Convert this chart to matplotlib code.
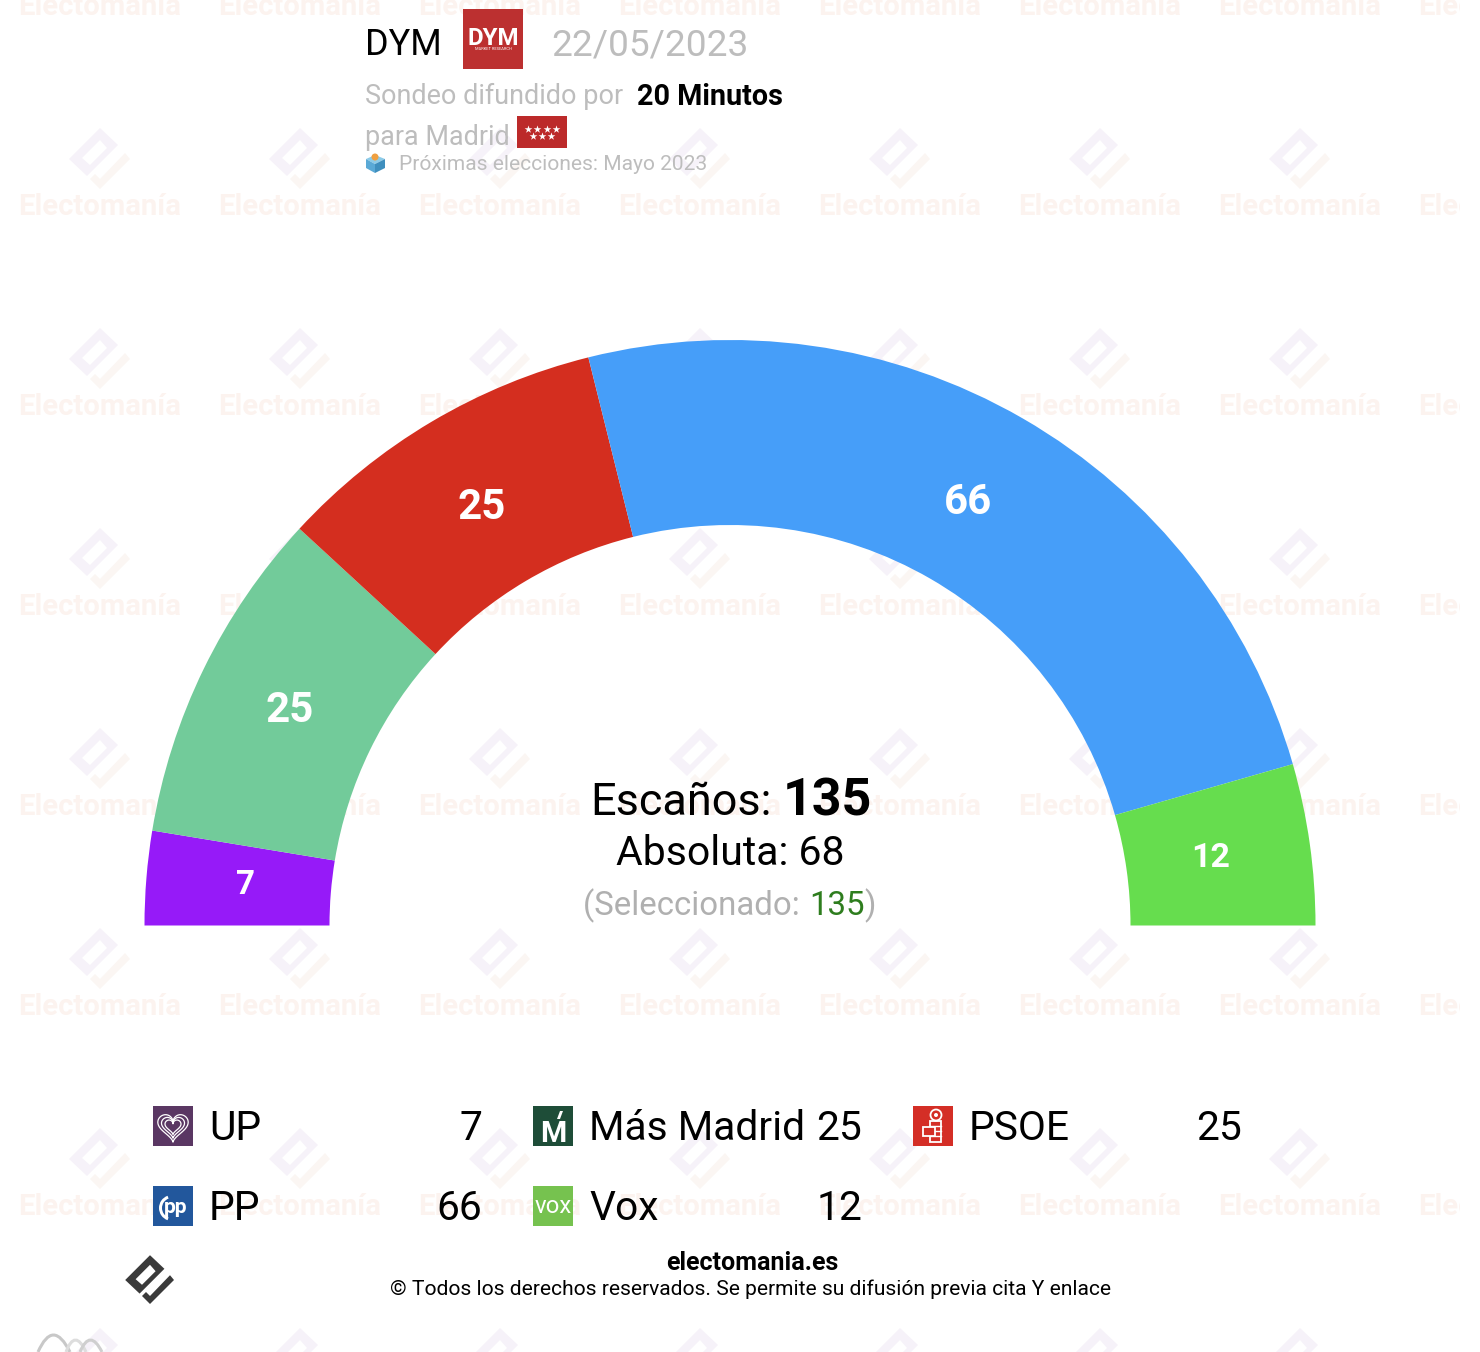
import numpy as np
import matplotlib
matplotlib.use("Agg")
import matplotlib.pyplot as plt
from matplotlib.patches import Wedge, Polygon, Rectangle, Circle, PathPatch
from matplotlib.path import Path

parties = ["UP", "Más Madrid", "PSOE", "PP", "Vox"]
seats = [7, 25, 25, 66, 12]
colors = ["#961AF8", "#72CB9A", "#D42E1F", "#469EF9", "#66DD4E"]
pollster = "DYM"
date_label = "22/05/2023"
total_label = "135"
majority_label = "68"
selected_label = "135"

plt.rcParams["font.family"] = ["Roboto", "DejaVu Sans"]
W, H = 1480, 1352
fig = plt.figure(figsize=(W / 100, H / 100), dpi=100)
ax = fig.add_axes([0, 0, 1, 1])
ax.set_xlim(0, W)
ax.set_ylim(H, 0)
ax.axis("off")


def px(p):
    return p * 0.72


def txt(x, y, s, size, color="black", weight="normal", ha="left", z=6, **kw):
    return ax.text(x, y, s, fontsize=px(size), color=color, fontweight=weight,
                   ha=ha, va="baseline", zorder=z, **kw)


def logo(cx, cy, scale, c1, c2, z):
    body = [(0, -31), (18, -14), (-13, 17), (-31, 0)]
    hole = [(0, -19), (7, -11), (-10, 6), (-18, -1)]
    verts = [(cx + a * scale, cy + b * scale) for a, b in body + body[:1] + hole[::-1] + hole[-1:]]
    codes = [Path.MOVETO] + [Path.LINETO] * 3 + [Path.CLOSEPOLY] + [Path.MOVETO] + [Path.LINETO] * 3 + [Path.CLOSEPOLY]
    ax.add_patch(PathPatch(Path(verts, codes), fc=c1, ec="none", zorder=z))
    stroke = [(25, -6), (30, 0), (0, 30), (-10, 20), (-5, 15), (0, 20)]
    ax.add_patch(Polygon([(cx + a * scale, cy + b * scale) for a, b in stroke],
                         fc=c2, ec="none", zorder=z))


# watermark tiles (the tile layer stops at x = 1460)
wm_clip = Rectangle((0, 0), 1460, H, transform=ax.transData)
for i in range(8):
    for j in range(-1, 7):
        cx = 100 + 200 * i
        if i < 7:
            logo(cx, 159 + 200 * j, 1.0, "#F6F2F9", "#FBF6F3", 1)
        t = ax.text(cx, 204 + 200 * j, "Electomanía", fontsize=px(29.3), fontweight="bold",
                    color="#FCF3EF", ha="center", va="center_baseline", zorder=1, clip_on=True)
        t.set_clip_path(wm_clip)

# hemicycle
cx0, cy0, r_out, r_in = 730, 925.5, 585.5, 400.5
total = sum(seats)
label_sizes = [33, 42, 42, 42, 34]
label_shift = [(7, 0), (3, 1), (3, 6), (-8, 4), (-8, 1)]
order = [0, 1, 2, 3, 4]
cum = 0
for k in order:
    v = seats[k]
    t1 = 180 + 180 * cum / total
    t2 = 180 + 180 * (cum + v) / total
    ax.add_patch(Wedge((cx0, cy0), r_out, t1, t2, width=r_out - r_in, fc=colors[k], ec="none", zorder=3))
    mid = np.deg2rad((t1 + t2) / 2)
    r = (r_out + r_in) / 2
    dx, dy = label_shift[k]
    ax.text(cx0 + r * np.cos(mid) + dx, cy0 + r * np.sin(mid) + dy, str(v), color="white",
            fontsize=px(label_sizes[k]), fontweight="bold", ha="center", va="center", zorder=5)
    cum += v

# header
txt(365, 55, pollster, 36)
ax.add_patch(Rectangle((463, 9), 60, 60, fc="#BC3030", ec="none", zorder=4))
txt(493, 45, pollster, 24, color="white", weight="bold", ha="center", z=5)
txt(493, 50, "MARKET RESEARCH", 4, color="white", ha="center", z=5)
txt(551, 55, date_label, 37, color="#BDBDBD")
txt(365, 104, "Sondeo difundido por", 27, color="#BDBDBD")
txt(637, 105, "20 Minutos", 28.8, weight="bold")
txt(365, 145, "para Madrid", 27, color="#BDBDBD")
ax.add_patch(Rectangle((517, 116), 50, 32, fc="#BC2A2A", ec="none", zorder=4))
ax.scatter([528, 537, 547, 556, 533, 542, 551], [129, 129, 129, 129, 136, 136, 136],
           marker="*", s=34, c="white", linewidths=0, zorder=5)
ax.add_patch(Polygon([(366, 159), (375, 155), (385, 159), (375, 164)], fc="#8CCBE8", ec="none", zorder=5))
ax.add_patch(Polygon([(366, 159), (375, 164), (375, 173), (366, 168)], fc="#5AA9D6", ec="none", zorder=5))
ax.add_patch(Polygon([(385, 159), (375, 164), (375, 173), (385, 168)], fc="#3F8FBE", ec="none", zorder=5))
ax.add_patch(Circle((375, 157), 3.5, fc="#F0A040", ec="none", zorder=6))
txt(399, 170, "Próximas elecciones: Mayo 2023", 21, color="#BDBDBD")

# centre
txt(590, 815, "Escaños:", 45)
txt(783, 815, total_label, 52, weight="bold")
txt(730, 865, "Absoluta: " + majority_label, 41, ha="center")
txt(583, 915, "(Seleccionado: ", 33, color="#B0B0B0")
txt(809, 915, selected_label, 33, color="#2E7D1E")
txt(864, 915, ")", 33, color="#B0B0B0")


# legend
def icon(x, y, name):
    if name == "UP":
        ax.add_patch(Rectangle((x, y), 40, 40, fc="#5A3763", ec="none", zorder=4))
        t = np.linspace(0, 2 * np.pi, 80)
        hx = 16 * np.sin(t) ** 3
        hy = -(13 * np.cos(t) - 5 * np.cos(2 * t) - 2 * np.cos(3 * t) - np.cos(4 * t))
        for s in (0.95, 0.72, 0.5):
            ax.plot(x + 20 + hx * s, y + 20 + hy * s, color="white", lw=0.9, zorder=5)
    elif name == "Más Madrid":
        ax.add_patch(Rectangle((x, y), 40, 40, fc="#1E4D38", ec="none", zorder=4))
        txt(x + 20, y + 36, "M", 30, color="white", weight="bold", ha="center", z=5)
        ax.add_patch(Polygon([(x + 24, y + 13), (x + 27, y + 13), (x + 30, y + 5), (x + 27, y + 5)],
                             fc="white", ec="none", zorder=5))
    elif name == "PSOE":
        ax.add_patch(Rectangle((x, y), 40, 40, fc="#D42E26", ec="none", zorder=4))
        ax.add_patch(Circle((x + 23, y + 9), 5.5, fc="none", ec="white", lw=1.3, zorder=5))
        ax.add_patch(Circle((x + 23, y + 9), 2, fc="white", ec="none", zorder=5))
        ax.add_patch(Rectangle((x + 17, y + 15), 11, 21, fc="none", ec="white", lw=1.3, zorder=5))
        for off in (20, 25, 30):
            ax.plot([x + 17, x + 28], [y + off, y + off], color="white", lw=1.0, zorder=6)
        ax.add_patch(Rectangle((x + 10, y + 21), 12, 9, fc="#D42E26", ec="white", lw=1.3, zorder=7))
    elif name == "PP":
        ax.add_patch(Rectangle((x, y), 40, 40, fc="#22579C", ec="none", zorder=4))
        txt(x + 23, y + 27, "pp", 21, color="white", weight="bold", ha="center", z=5)
        ax.add_patch(Wedge((x + 19, y + 22), 13, 110, 250, width=3, fc="white", ec="none", zorder=5))
    else:
        ax.add_patch(Rectangle((x, y), 40, 40, fc="#76C24F", ec="none", zorder=4))
        txt(x + 20, y + 27, "vox", 24, color="white", ha="center", z=5)


legend_x = [153, 533, 913, 153, 533]
legend_y = [1106, 1106, 1106, 1186, 1186]
for k in order:
    x, y = legend_x[k], legend_y[k]
    icon(x, y, parties[k])
    txt(x + 56, y + 34.5, parties[k], 40.8)
    txt(x + 329, y + 34.5, str(seats[k]), 40.8, ha="right")

# footer
txt(752, 1270, "electomania.es", 25, weight="bold", ha="center")
txt(751, 1295, "© Todos los derechos reservados. Se permite su difusión previa cita Y enlace", 21, ha="center")
logo(150, 1280, 0.8, "#3A3A3A", "#3A3A3A", 5)

w1 = Path([(38, 1352), (53, 1318), (70, 1352)], [Path.MOVETO, Path.CURVE3, Path.CURVE3])
w2 = Path([(66, 1352), (75, 1328), (86, 1352)], [Path.MOVETO, Path.CURVE3, Path.CURVE3])
w3 = Path([(80, 1352), (90, 1328), (102, 1352)], [Path.MOVETO, Path.CURVE3, Path.CURVE3])
for p, c in ((w1, "#C8C8C8"), (w2, "#DDDDDD"), (w3, "#CFCFCF")):
    ax.add_patch(PathPatch(p, fc="none", ec=c, lw=2.2, zorder=2))

fig.savefig("out.png", dpi=100, facecolor="white")
